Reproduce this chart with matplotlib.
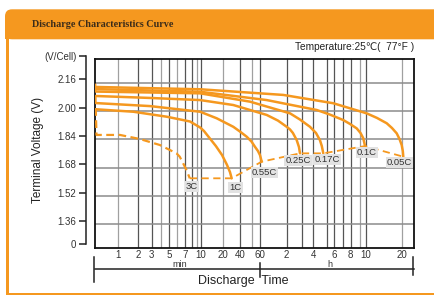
import numpy as np
import matplotlib.pyplot as plt
from matplotlib.patches import Rectangle, FancyBboxPatch

plt.rcParams['font.family'] = ['Liberation Sans', 'DejaVu Sans']

# printed (non uniform) time axis of the sheet: minutes -> position of grid line
grid_t = [0.3, 1, 2, 3, 4, 5, 6, 7, 8, 9, 10, 20, 40, 50, 60,
          120, 180, 240, 300, 360, 420, 480, 540, 600, 1200, 3000]
grid_x = [81.9, 117.7, 138.3, 151.7, 160.7, 169, 177.3, 185, 191.7, 196.7, 201,
          223.3, 240, 252, 260, 286.7, 302.3, 313.3, 326.7, 334, 343.3, 350.7,
          360, 366, 401.7, 448.9]
grid_dark = [0, 1, 1, 0, 1, 0, 1, 1, 0, 1, 0, 1, 0, 1,
             1, 1, 1, 1, 1, 1, 1, 0, 1, 0]

xtick_t = [1, 2, 3, 5, 7, 10, 20, 40, 60, 120, 240, 360, 480, 600, 1200]
xtick_lab = ['1', '2', '3', '5', '7', '10', '20', '40', '60', '2', '4', '6', '8', '10', '20']
v_grid = [1.36, 1.52, 1.68, 1.84, 2.00, 2.16]

# discharge curves, time in minutes, voltage per cell
rates = ['3C', '1C', '0.55C', '0.25C', '0.17C', '0.1C', '0.05C']
t_3c = [0.47, 0.475, 0.49, 1.08, 2.1, 3.9, 5.9, 6.3, 6.8, 7.2, 7.7]
v_3c = [2.155, 2.05, 1.865, 1.865, 1.842, 1.808, 1.761, 1.742, 1.70, 1.667, 1.62]
t_1c = [0.48, 1.7, 4.7, 7.73, 9.8, 10.98, 12.4, 15.9, 19.2, 23.3, 26.4, 28.3]
v_1c = [2.01, 1.996, 1.968, 1.941, 1.907, 1.887, 1.859, 1.802, 1.752, 1.696, 1.655, 1.62]
t_055 = [0.48, 2.85, 9.8, 16.3, 30.3, 40, 45.3, 49.5, 53.5, 57.3, 60, 62.7]
v_055 = [2.045, 2.028, 1.996, 1.959, 1.911, 1.884, 1.855, 1.828, 1.798, 1.774, 1.751, 1.714]
t_025 = [0.48, 2.85, 9.8, 30.3, 71.4, 95.7, 120, 130.8, 141, 155.6, 165, 169.5]
v_025 = [2.085, 2.074, 2.062, 2.034, 1.978, 1.946, 1.911, 1.896, 1.876, 1.836, 1.797, 1.761]
t_017 = [0.48, 9.8, 48.2, 130.8, 169.5, 220, 251, 268, 276.6, 283.5]
v_017 = [2.11, 2.10, 2.053, 1.987, 1.952, 1.911, 1.876, 1.836, 1.802, 1.761]
t_01 = [0.48, 9.8, 71.4, 254, 325, 420, 474, 518, 545, 572, 590]
v_01 = [2.124, 2.109, 2.062, 2.006, 1.98, 1.949, 1.927, 1.902, 1.876, 1.846, 1.802]
t_005 = [0.48, 9.8, 110, 354, 608, 743, 897, 994, 1089, 1150, 1200, 1226, 1238]
v_005 = [2.136, 2.123, 2.091, 2.044, 1.987, 1.961, 1.931, 1.904, 1.874, 1.842, 1.808,
         1.774, 1.742]

curves = [(t_3c, v_3c), (t_1c, v_1c), (t_055, v_055), (t_025, v_025),
          (t_017, v_017), (t_01, v_01), (t_005, v_005)]
lab_off = [(2, -8), (4, -9), (3, -11), (-2, -7.5), (4, -6), (2, -6.5), (-4, -6)]

W, H = 435, 295
ORANGE = '#F5981F'


def fr(x0, y0, x1, y1):
    return [x0 / W, 1 - y1 / H, (x1 - x0) / W, (y1 - y0) / H]


def fwd(t):
    return np.interp(np.log(np.clip(t, 1e-6, None)), np.log(grid_t), grid_x)


def inv(x):
    return np.exp(np.interp(x, grid_x, np.log(grid_t)))


fig = plt.figure(figsize=(W / 100, H / 100), dpi=100)

# frame of the sheet
bg = fig.add_axes([0, 0, 1, 1])
bg.set_xlim(0, W)
bg.set_ylim(H, 0)
bg.axis('off')
bg.add_patch(FancyBboxPatch((5, 9.3), 445, 30, boxstyle='round,pad=0,rounding_size=7',
                            fc=ORANGE, ec='none'))
bg.add_patch(Rectangle((5, 24), 445, 15.3, fc=ORANGE, ec='none'))
bg.add_patch(Rectangle((6.5, 39), 2.8, 256, fc=ORANGE, ec='none'))
bg.add_patch(Rectangle((6.5, 293.2), 440, 2, fc=ORANGE, ec='none'))
bg.text(32, 24.5, 'Discharge Characteristics Curve', family='Liberation Serif',
        weight='bold', size=7.3, color='#3b2c1a', va='center', ha='left')
bg.text(414, 47, 'Temperature:25\u2103(  77\u00b0F )', size=7.3, color='#222',
        ha='right', va='center', family=['Liberation Sans', 'DejaVu Sans'])
bg.text(38, 150, 'Terminal Voltage (V)', rotation=90, size=8.5, color='#222',
        ha='center', va='center')

# main chart
ax = fig.add_axes(fr(95, 59, 414, 247.7))
ax.set_xscale('function', functions=(fwd, inv))
ax.set_xlim(inv(95), inv(414))
ylo, yhi = 1.228, 2.294
ax.set_ylim(ylo, yhi)

for t, d in zip(grid_t[1:-1], grid_dark):
    ax.axvline(t, color='#555555' if d else '#a0a0a0', lw=0.9, zorder=1)
for v in v_grid:
    ax.axhline(v, color='#8c8c8c', lw=1.1, zorder=1)

for (t, v), r in zip(curves, rates):
    if r == '3C':
        ax.plot(t, v, color=ORANGE, lw=1.6, dashes=(3.5, 2), zorder=3)
    else:
        ax.plot(t, v, color=ORANGE, lw=1.8, solid_capstyle='round',
                solid_joinstyle='round', zorder=3)

end_t = [c[0][-1] for c in curves]
end_v = [c[1][-1] for c in curves]
ax.plot(end_t, end_v, color=ORANGE, lw=1.3, dashes=(4, 2.5), zorder=3)

for r, et, ev, off in zip(rates, end_t, end_v, lab_off):
    ax.annotate(r, (et, ev), xytext=off, textcoords='offset pixels',
                ha='center', va='center', size=6.8, color='#333', zorder=4,
                bbox=dict(boxstyle='square,pad=0.12', fc='#e2e2e2', ec='none'))

ax.set_xticks(xtick_t)
ax.set_xticklabels(xtick_lab)
ax.xaxis.set_minor_locator(plt.NullLocator())
ax.set_yticks([])
ax.tick_params(axis='x', length=0, pad=1.5, labelsize=7, labelcolor='#333')
for s in ax.spines.values():
    s.set_linewidth(1.3)
    s.set_color('#111')

# bracket below the time axis
kw = dict(color='#222', lw=1.1, clip_on=False)
ax.plot([0, 1], [-0.1145, -0.1145], transform=ax.transAxes, **kw)
ax.plot([-0.003, -0.003], [-0.0477, -0.1802], transform=ax.transAxes, **kw)
ax.plot([0.997, 0.997], [-0.0477, -0.1447], transform=ax.transAxes, **kw)
ax.plot([60, 60], [-0.0795, -0.1537], transform=ax.get_xaxis_transform(), **kw)
ax.text(0.266, -0.089, 'min', transform=ax.transAxes, ha='center', va='center',
        size=6.5, color='#333')
ax.text(0.737, -0.087, 'h', transform=ax.transAxes, ha='center', va='center',
        size=6.5, color='#333')
ax.text(0.464, -0.176, 'Discharge  Time', transform=ax.transAxes, ha='center',
        va='center', size=9, color='#222')

# voltage scale, drawn a little apart from the chart
axv = fig.add_axes(fr(86, 55.6, 86.5, 244.3))
axv.set_ylim(ylo, yhi)
axv.patch.set_visible(False)
for k in ['top', 'right', 'bottom']:
    axv.spines[k].set_visible(False)
axv.spines['left'].set_linewidth(1.1)
axv.spines['left'].set_color('#222')
axv.set_xticks([])
axv.set_yticks([ylo] + v_grid + [yhi])
axv.set_yticklabels(['0'] + ['%.2f' % v for v in v_grid] + ['(V/Cell)'])
axv.tick_params(axis='y', length=5, width=1.1, color='#222', pad=2,
                labelsize=7, labelcolor='#333')

fig.savefig('out.png', dpi=100)
